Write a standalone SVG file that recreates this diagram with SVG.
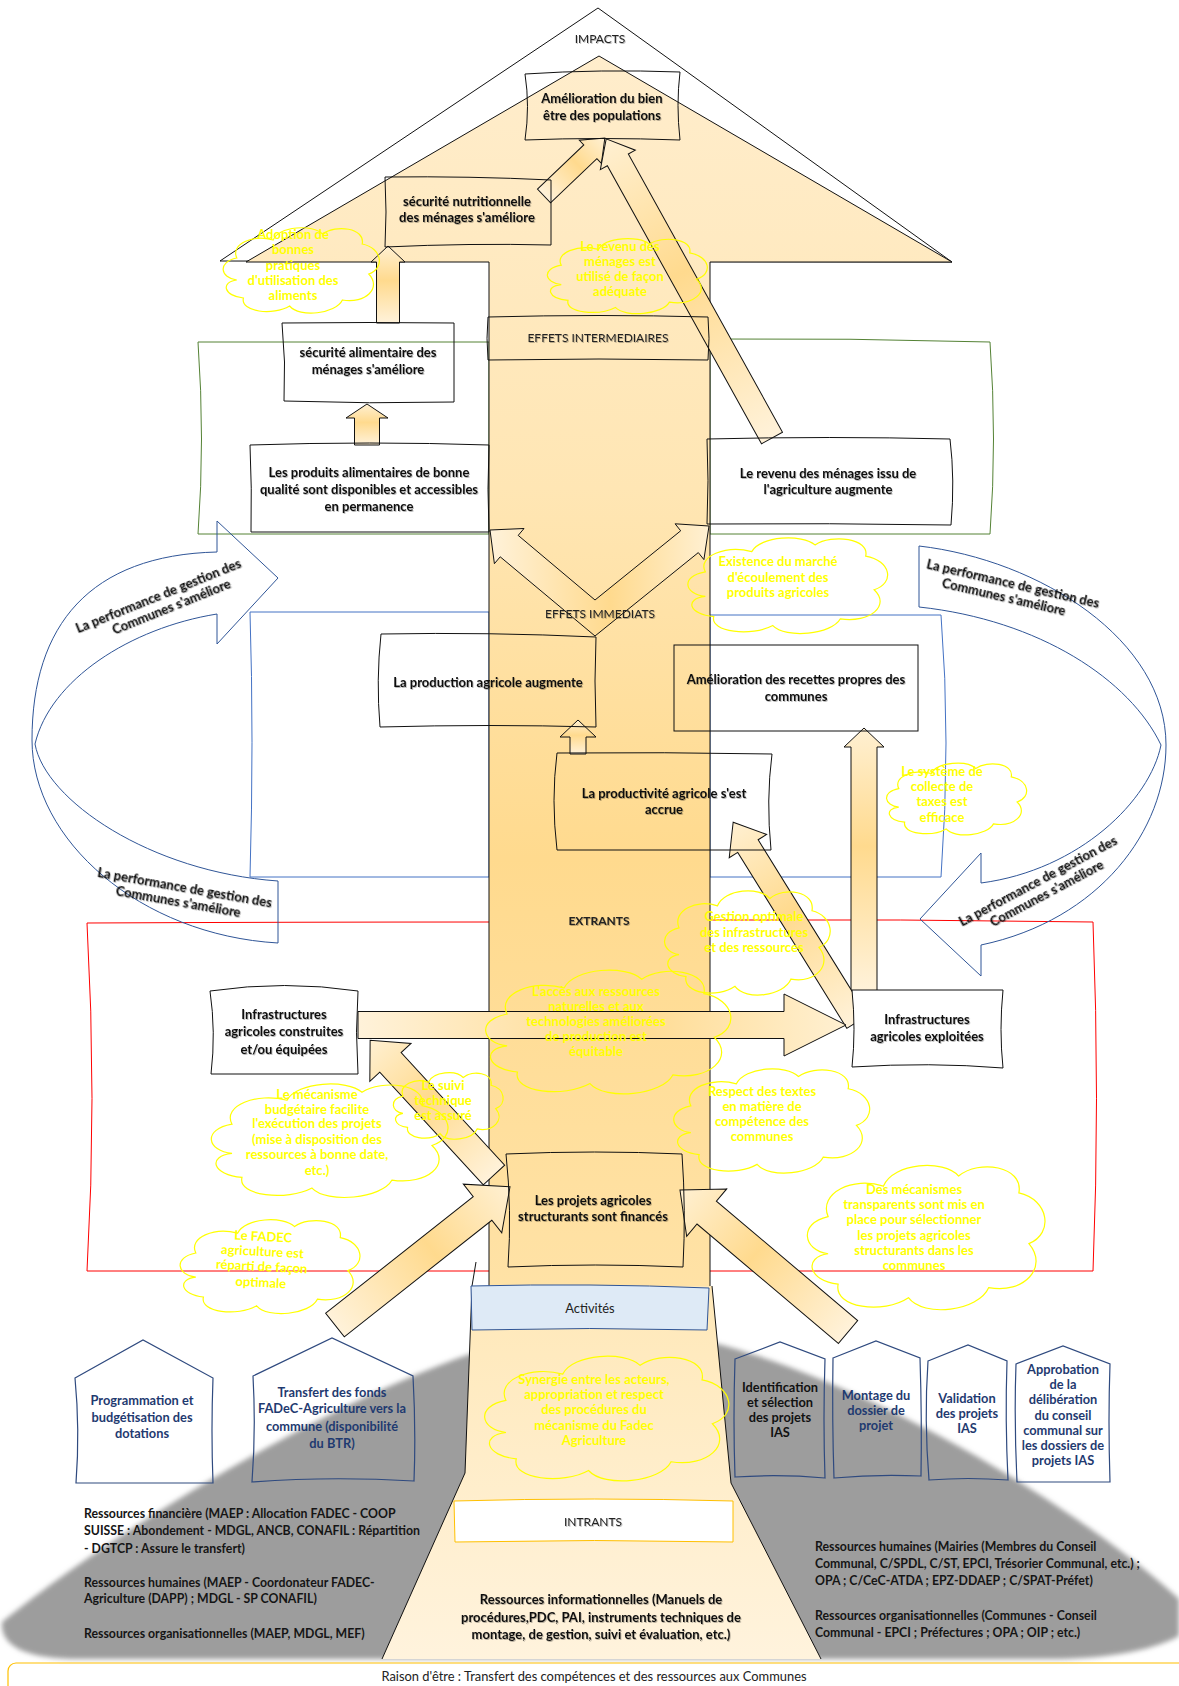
<svg xmlns="http://www.w3.org/2000/svg" width="1179" height="1686" viewBox="0 0 1179 1686">
<defs>
<style>
text{font-family:Lato,"Liberation Sans",Arial,sans-serif;}
.lb{font-weight:700;font-size:13px;fill:#111;text-anchor:middle;filter:url(#ts)}
.sec{font-weight:400;font-size:12px;fill:#222;text-anchor:middle;filter:url(#ts)}
.sec2{font-weight:400;font-size:12.9px;fill:#222;text-anchor:middle}
.cl{font-weight:700;font-size:13px;fill:#FFFF00;text-anchor:middle}
.nv{font-weight:700;font-size:12.8px;fill:#1F3A70;text-anchor:middle}
.res{font-weight:700;font-size:12.3px;fill:#151515}
.cv{font-weight:700;font-size:13px;fill:#111;text-anchor:middle;filter:url(#ts)}
.box{fill:none;stroke:#111;stroke-width:1}
.wbox{fill:#fff;stroke:#111;stroke-width:1}
.arr{fill:url(#ag);stroke:#111;stroke-width:1}
.cloud{fill:none;stroke:#FFFF00;stroke-width:1.2}
.pent{fill:none;stroke:#2F4A7F;stroke-width:1.2}
.band{fill:none;stroke:#2F5597;stroke-width:1}
</style>
<filter id="ts" x="-5%" y="-30%" width="110%" height="160%"><feDropShadow dx="0.8" dy="1" stdDeviation="0.6" flood-color="#000" flood-opacity="0.28"/></filter>
<linearGradient id="shaftG" gradientUnits="userSpaceOnUse" x1="0" y1="56" x2="0" y2="1290">
<stop offset="0" stop-color="#FFEDCC"/>
<stop offset="0.35" stop-color="#FFE6B4"/>
<stop offset="0.65" stop-color="#FFDA8E"/>
<stop offset="1" stop-color="#FFE2A6"/>
</linearGradient>
<linearGradient id="trunkG" x1="0" y1="0" x2="0" y2="1">
<stop offset="0" stop-color="#FFE8B8"/>
<stop offset="1" stop-color="#FFF3DD"/>
</linearGradient>
<linearGradient id="ag" x1="0" y1="0" x2="1" y2="0">
<stop offset="0" stop-color="#FFF2DA"/>
<stop offset="0.55" stop-color="#FFDA8E"/>
<stop offset="1" stop-color="#FFF0D2"/>
</linearGradient>
<filter id="soft" x="-5%" y="-5%" width="110%" height="110%"><feGaussianBlur stdDeviation="2.5"/></filter>
<path id="cloud" vector-effect="non-scaling-stroke" d="M12,62 C2,60 0,44 12,40 C8,26 22,16 34,22 C38,8 58,6 64,16 C72,6 90,10 88,26 C100,30 102,50 92,56 C100,70 90,86 76,82 C72,96 50,100 44,88 C34,98 14,94 16,80 C4,78 2,64 12,62 Z"/>
</defs>

<!-- grey background shape -->
<path id="shadow" d="M2,1622 C140,1510 445,1328 600,1326 C780,1326 1060,1490 1179,1599 L1179,1636 C1150,1652 1100,1659 1050,1659 L80,1659 C30,1659 0,1648 2,1622 Z" fill="#9D9D9D" filter="url(#soft)"/>

<!-- impacts triangle -->
<polygon points="220,261 598,8 952,262" fill="none" stroke="#111" stroke-width="1"/>

<!-- colored frames -->
<g id="frames" fill="none" stroke-width="1">
<path d="M198,342 L489,342 L489,534 L198,534 Q205,440 198,342 Z" stroke="#548235"/>
<path d="M710,339 Q850,338 990,342 Q997,440 990,534 L710,534 Z" stroke="#548235"/>
<path d="M250,612 L489,612 L489,877 L250,877 Q254,740 250,612 Z" stroke="#4472C4"/>
<path d="M710,615 L941,615 Q951,740 941,877 L710,877 Z" stroke="#4472C4"/>
<path d="M87,923 Q300,922 489,922 L710,920 Q900,919 1093,922 Q1100,1100 1093,1271 L87,1271 Q97,1100 87,923 Z" stroke="#FF0000"/>
</g>

<!-- curved blue arrows -->
<g id="curved-arrows" class="band">
<path d="M217,552 C90,555 32,625 32,740 C32,840 140,935 278,943"/>
<path d="M217,614 C130,628 50,680 35,744 C45,800 150,872 278,881"/>
<path d="M217,552 L217,521 L278,578 L217,644 L217,614"/>
<path d="M278,881 L278,943"/>
<path d="M919,546 C1040,560 1166,640 1166,745 C1166,830 1100,920 981,945"/>
<path d="M919,607 C1040,620 1130,680 1161,745 C1150,800 1080,870 981,883"/>
<path d="M981,883 L981,853 L920,919 L981,976 L981,945"/>
<path d="M919,546 L919,607"/>
</g>
<g id="curved-labels">
<text class="cv" transform="translate(160,600) rotate(-22)"><tspan x="0" y="0">La performance de gestion des</tspan><tspan x="8" y="15">Communes s'améliore</tspan></text>
<text class="cv" transform="translate(184,892) rotate(10)"><tspan x="0" y="0">La performance de gestion des</tspan><tspan x="-4" y="15">Communes s'améliore</tspan></text>
<text class="cv" transform="translate(1012,588) rotate(13)"><tspan x="0" y="0">La performance de gestion des</tspan><tspan x="-6" y="15">Communes s'améliore</tspan></text>
<text class="cv" transform="translate(1040,885) rotate(-28)"><tspan x="0" y="0">La performance de gestion des</tspan><tspan x="2" y="15">Communes s'améliore</tspan></text>
</g>

<!-- big arrow and trunk -->
<path id="big-arrow" d="M599,56 L952,262 L710,262 L710,1290 L489,1290 L489,262 L246,262 Z" fill="url(#shaftG)" stroke="#111" stroke-width="1"/>
<path id="trunk" d="M472,1286 L465,1473 L382,1659 L821,1659 L731,1483 L712,1286 Z" fill="url(#trunkG)" stroke="none"/>
<path d="M476,1262 L472,1286 L465,1473 L382,1659 M712,1286 L731,1483 L821,1659" fill="none" stroke="#111" stroke-width="1"/>

<!-- connectors -->
<g id="connectors">
<path class="arr" transform="translate(544,196) rotate(-43.6)" d="M0,-9.5 L64,-9.5 L64,-16 L84,0 L64,16 L64,9.5 L0,9.5 Z"/>
<path class="arr" transform="translate(772,438) rotate(-119)" d="M0,-12 L318,-12 L318,-20 L342,0 L318,20 L318,12 L0,12 Z"/>
<path class="arr" transform="translate(388,323) rotate(-90)" d="M0,-11.5 L61,-11.5 L61,-17 L77,0 L61,17 L61,11.5 L0,11.5 Z"/>
<path class="arr" transform="translate(367,445) rotate(-90)" d="M0,-12.5 L27,-12.5 L27,-21 L41,0 L27,21 L27,12.5 L0,12.5 Z"/>
<path class="arr" d="M595,636 L500.2,556.8 L494.4,563.7 L490,530 L524,528.5 L518.2,535.4 L595,600 L680.7,530.8 L675.1,523.8 L709,526 L703.9,559.6 L698.3,552.6 Z"/>
<path class="arr" transform="translate(578,754) rotate(-90)" d="M0,-8 L17,-8 L17,-18 L34,0 L17,18 L17,8 L0,8 Z"/>
<path class="arr" transform="translate(864,991) rotate(-90)" d="M0,-13 L244,-13 L244,-20 L263,0 L244,20 L244,13 L0,13 Z"/>
<path class="arr" transform="translate(857,1022) rotate(-121.8)" d="M0,-12 L207,-12 L207,-22 L235,0 L207,22 L207,12 L0,12 Z"/>
<path class="arr" transform="translate(494,1175) rotate(-132.6)" d="M0,-14.5 L153,-14.5 L153,-28 L183,0 L153,28 L153,14.5 L0,14.5 Z"/>
<path class="arr" transform="translate(358,1025)" d="M0,-13.5 L426,-13.5 L426,-31 L488,0 L426,31 L426,13.5 L0,13.5 Z"/>
<path class="arr" transform="translate(335,1325) rotate(-38.3)" d="M0,-15 L188,-15 L188,-31 L223,0 L188,31 L188,15 L0,15 Z"/>
<path class="arr" transform="translate(848,1332) rotate(-139.8)" d="M0,-15 L185,-15 L185,-31 L220,0 L185,31 L185,15 L0,15 Z"/>
</g>

<!-- section labels -->
<text class="sec" x="600" y="43">IMPACTS</text>
<g id="effets-intermediaires">
<path class="box" d="M488,317 Q600,314 708,317 Q710,338 708,360 Q600,358 488,360 Q486,338 488,317 Z"/>
<text class="sec" x="598" y="342">EFFETS INTERMEDIAIRES</text>
</g>
<text class="sec" x="600" y="618">EFFETS IMMEDIATS</text>
<text class="sec" x="599" y="925" style="font-weight:700">EXTRANTS</text>

<!-- nodes -->
<g id="n-bienetre">
<path class="box" d="M525,74 Q600,69 680,72 Q676,105 680,140 Q600,137 525,140 Q530,106 525,74 Z"/>
<text class="lb"><tspan x="602" y="103">Amélioration du bien</tspan><tspan x="602" y="120">être des populations</tspan></text>
</g>
<g id="n-nutri">
<path class="box" d="M385,177 Q470,176 551,180 L551,245 Q470,243 385,247 Q387,212 385,177 Z"/>
<text class="lb"><tspan x="467" y="206">sécurité nutritionnelle</tspan><tspan x="467" y="222">des ménages s'améliore</tspan></text>
</g>
<g id="n-alim">
<path class="box" d="M282,323 Q370,322 454,323 L454,402 Q370,404 284,401 Q286,362 282,323 Z"/>
<text class="lb"><tspan x="368" y="357">sécurité alimentaire des</tspan><tspan x="368" y="374">ménages s'améliore</tspan></text>
</g>
<g id="n-produits">
<path class="box" d="M250,445 Q370,441 489,445 Q487,490 489,532 L251,532 Q252,488 250,445 Z"/>
<text class="lb"><tspan x="369" y="477">Les produits alimentaires de bonne</tspan><tspan x="369" y="494">qualité sont disponibles et accessibles</tspan><tspan x="369" y="511">en permanence</tspan></text>
</g>
<g id="n-revenu">
<path class="box" d="M707,439 Q830,436 950,439 Q955,480 951,525 Q830,523 707,524 Q709,480 707,439 Z"/>
<text class="lb"><tspan x="828" y="478">Le revenu des ménages issu de</tspan><tspan x="828" y="494">l'agriculture augmente</tspan></text>
</g>
<g id="n-production">
<path class="box" d="M381,634 Q490,632 596,637 Q594,680 596,727 Q490,724 380,727 Q376,680 381,634 Z"/>
<text class="lb" x="488" y="687">La production agricole augmente</text>
</g>
<g id="n-recettes">
<rect class="box" x="674" y="645" width="244" height="86"/>
<text class="lb"><tspan x="796" y="684">Amélioration des recettes propres des</tspan><tspan x="796" y="701">communes</tspan></text>
</g>
<g id="n-productivite">
<path class="box" d="M557,753 Q665,752 772,754 Q766,800 771,850 L557,850 Q551,800 557,753 Z"/>
<text class="lb"><tspan x="664" y="798">La productivité agricole s'est</tspan><tspan x="664" y="814">accrue</tspan></text>
</g>
<g id="n-construites">
<path class="wbox" d="M210,991 Q285,980 358,991 Q355,1032 358,1074 L211,1074 Q216,1032 210,991 Z"/>
<text class="lb"><tspan x="284" y="1019">Infrastructures</tspan><tspan x="284" y="1036">agricoles construites</tspan><tspan x="284" y="1054">et/ou équipées</tspan></text>
</g>
<g id="n-exploitees">
<path class="wbox" d="M852,990 L1003,990 Q999,1030 1003,1068 Q930,1062 852,1067 Q856,1030 852,990 Z"/>
<text class="lb"><tspan x="927" y="1024">Infrastructures</tspan><tspan x="927" y="1041">agricoles exploitées</tspan></text>
</g>
<g id="n-projets">
<path class="box" d="M506,1154 Q595,1150 682,1154 Q686,1210 683,1267 Q595,1263 508,1267 Q512,1210 506,1154 Z"/>
<text class="lb"><tspan x="593" y="1205">Les projets agricoles</tspan><tspan x="593" y="1221">structurants sont financés</tspan></text>
</g>
<g id="activites">
<path d="M471,1286 Q590,1283 709,1288 L707,1330 Q590,1327 472,1330 Z" fill="#DEEAF6" stroke="#2F5597" stroke-width="1"/>
<text class="sec2" x="590" y="1313">Activités</text>
</g>
<g id="intrants">
<path d="M454,1501 Q595,1497 733,1501 L733,1542 Q595,1539 455,1542 Z" fill="#fff" stroke="#FFC000" stroke-width="1"/>
<text class="sec" x="593" y="1526">INTRANTS</text>
</g>

<!-- activity pentagons -->
<g id="p-programmation">
<path class="pent" d="M75,1378 L143,1340 L213,1378 Q211,1430 213,1483 L76,1483 Q80,1430 75,1378 Z"/>
<text class="nv"><tspan x="142" y="1405">Programmation et</tspan><tspan x="142" y="1422">budgétisation des</tspan><tspan x="142" y="1438">dotations</tspan></text>
</g>
<g id="p-transfert">
<path class="pent" d="M253,1376 L332,1338 L413,1376 Q416,1430 414,1481 Q330,1476 252,1482 Q256,1430 253,1376 Z"/>
<text class="nv"><tspan x="332" y="1397">Transfert des fonds</tspan><tspan x="332" y="1413">FADeC-Agriculture vers la</tspan><tspan x="332" y="1431">commune (disponibilité</tspan><tspan x="332" y="1448">du BTR)</tspan></text>
</g>
<g id="p-identification">
<path class="pent" d="M735,1359 L780,1342 L825,1359 Q823,1420 825,1478 Q780,1474 735,1477 Q733,1420 735,1359 Z"/>
<text class="nv" style="fill:#111"><tspan x="780" y="1392">Identification</tspan><tspan x="780" y="1407">et sélection</tspan><tspan x="780" y="1422">des projets</tspan><tspan x="780" y="1437">IAS</tspan></text>
</g>
<g id="p-montage">
<path class="pent" d="M833,1358 L876,1341 L920,1358 Q922,1420 921,1476 Q876,1474 834,1478 Q832,1420 833,1358 Z"/>
<text class="nv"><tspan x="876" y="1400">Montage du</tspan><tspan x="876" y="1415">dossier de</tspan><tspan x="876" y="1430">projet</tspan></text>
</g>
<g id="p-validation">
<path class="pent" d="M928,1361 L968,1345 L1007,1361 Q1005,1420 1008,1480 Q968,1477 929,1480 Q924,1420 928,1361 Z"/>
<text class="nv"><tspan x="967" y="1403">Validation</tspan><tspan x="967" y="1418">des projets</tspan><tspan x="967" y="1433">IAS</tspan></text>
</g>
<g id="p-approbation">
<path class="pent" d="M1016,1364 L1063,1346 L1110,1364 Q1108,1420 1110,1482 L1017,1482 Q1014,1420 1016,1364 Z"/>
<text class="nv"><tspan x="1063" y="1374">Approbation</tspan><tspan x="1063" y="1389">de la</tspan><tspan x="1063" y="1404">délibération</tspan><tspan x="1063" y="1420">du conseil</tspan><tspan x="1063" y="1435">communal sur</tspan><tspan x="1063" y="1450">les dossiers de</tspan><tspan x="1063" y="1465">projets IAS</tspan></text>
</g>

<!-- resources texts -->
<g id="res-left">
<text class="res"><tspan x="84" y="1518">Ressources financière (MAEP : Allocation FADEC - COOP</tspan><tspan x="84" y="1535">SUISSE : Abondement - MDGL, ANCB, CONAFIL : Répartition</tspan><tspan x="84" y="1553">- DGTCP : Assure le transfert)</tspan><tspan x="84" y="1587">Ressources humaines (MAEP - Coordonateur FADEC-</tspan><tspan x="84" y="1603">Agriculture (DAPP) ; MDGL - SP CONAFIL)</tspan><tspan x="84" y="1638">Ressources organisationnelles (MAEP, MDGL, MEF)</tspan></text>
</g>
<g id="res-right">
<text class="res"><tspan x="815" y="1551">Ressources humaines (Mairies (Membres du Conseil</tspan><tspan x="815" y="1568">Communal, C/SPDL, C/ST, EPCI, Trésorier Communal, etc.) ;</tspan><tspan x="815" y="1585">OPA ; C/CeC-ATDA ; EPZ-DDAEP ; C/SPAT-Préfet)</tspan><tspan x="815" y="1620">Ressources organisationnelles (Communes - Conseil</tspan><tspan x="815" y="1637">Communal - EPCI ; Préfectures ; OPA ; OIP ; etc.)</tspan></text>
</g>
<g id="res-info">
<text class="lb"><tspan x="601" y="1604">Ressources informationnelles (Manuels de</tspan><tspan x="601" y="1622">procédures,PDC, PAI, instruments techniques de</tspan><tspan x="601" y="1639">montage, de gestion, suivi et évaluation, etc.)</tspan></text>
</g>

<!-- raison d'etre -->
<g id="raison">
<rect x="8" y="1663" width="1200" height="40" rx="8" fill="none" stroke="#FFC000" stroke-width="1.2"/>
<text class="sec2" x="594" y="1681">Raison d'être : Transfert des compétences et des ressources aux Communes</text>
</g>

<!-- clouds (assumptions) -->
<g id="clouds">
<use href="#cloud" class="cloud" transform="translate(217,218) scale(1.65,1.0)"/>
<text class="cl"><tspan x="293" y="239">Adoption de</tspan><tspan x="293" y="254">bonnes</tspan><tspan x="293" y="270">pratiques</tspan><tspan x="293" y="285">d'utilisation des</tspan><tspan x="293" y="300">aliments</tspan></text>
<use href="#cloud" class="cloud" transform="translate(541,230) scale(1.69,0.88)"/>
<text class="cl"><tspan x="620" y="251">Le revenu des</tspan><tspan x="620" y="266">ménages est</tspan><tspan x="620" y="281">utilisé de façon</tspan><tspan x="620" y="296">adéquate</tspan></text>
<use href="#cloud" class="cloud" transform="translate(680,527) scale(2.11,1.12)"/>
<text class="cl"><tspan x="778" y="566">Existence du marché</tspan><tspan x="778" y="582">d'écoulement des</tspan><tspan x="778" y="597">produits agricoles</tspan></text>
<use href="#cloud" class="cloud" transform="translate(881,755) scale(1.48,0.84)"/>
<text class="cl"><tspan x="942" y="776">Le système de</tspan><tspan x="942" y="791">collecte de</tspan><tspan x="942" y="806">taxes est</tspan><tspan x="942" y="822">efficace</tspan></text>
<use href="#cloud" class="cloud" transform="translate(658,879) scale(1.75,1.22)"/>
<text class="cl"><tspan x="754" y="921">Gestion optimale</tspan><tspan x="754" y="937">des infrastructures</tspan><tspan x="754" y="952">et des ressources</tspan></text>
<use href="#cloud" class="cloud" transform="translate(476,956) scale(2.59,1.45)"/>
<text class="cl"><tspan x="596" y="996">L'accès aux ressources</tspan><tspan x="596" y="1011">naturelles et aux</tspan><tspan x="596" y="1026">technologies améliorées</tspan><tspan x="596" y="1041">de production est</tspan><tspan x="596" y="1056">équitable</tspan></text>
<use href="#cloud" class="cloud" transform="translate(389,1065) scale(1.16,0.78)"/>
<text class="cl"><tspan x="443" y="1090">Le suivi</tspan><tspan x="443" y="1105">technique</tspan><tspan x="443" y="1120">est assuré</tspan></text>
<use href="#cloud" class="cloud" transform="translate(202,1071) scale(2.5,1.33)"/>
<text class="cl"><tspan x="317" y="1099">Le mécanisme</tspan><tspan x="317" y="1114">budgétaire facilite</tspan><tspan x="317" y="1128">l'exécution des projets</tspan><tspan x="317" y="1144">(mise à disposition des</tspan><tspan x="317" y="1159">ressources à bonne date,</tspan><tspan x="317" y="1175">etc.)</tspan></text>
<use href="#cloud" class="cloud" transform="translate(666,1057) scale(2.07,1.22)"/>
<text class="cl"><tspan x="762" y="1096">Respect des textes</tspan><tspan x="762" y="1111">en matière de</tspan><tspan x="762" y="1126">compétence des</tspan><tspan x="762" y="1141">communes</tspan></text>
<use href="#cloud" class="cloud" transform="translate(798,1149) scale(2.51,1.69)"/>
<text class="cl"><tspan x="914" y="1194">Des mécanismes</tspan><tspan x="914" y="1209">transparents sont mis en</tspan><tspan x="914" y="1224">place pour sélectionner</tspan><tspan x="914" y="1240">les projets agricoles</tspan><tspan x="914" y="1255">structurants dans les</tspan><tspan x="914" y="1270">communes</tspan></text>
<use href="#cloud" class="cloud" transform="translate(173,1209) scale(1.9,1.1)"/>
<text class="cl" transform="rotate(3 262 1260)"><tspan x="262" y="1241">Le FADEC</tspan><tspan x="262" y="1256">agriculture est</tspan><tspan x="262" y="1271">réparti de façon</tspan><tspan x="262" y="1287">optimale</tspan></text>
<use href="#cloud" class="cloud" transform="translate(475,1342) scale(2.58,1.46)"/>
<text class="cl"><tspan x="594" y="1384">Synergie entre les acteurs,</tspan><tspan x="594" y="1399">appropriation et respect</tspan><tspan x="594" y="1414">des procédures du</tspan><tspan x="594" y="1430">mécanisme du Fadec</tspan><tspan x="594" y="1445">Agriculture</tspan></text>
</g>
</svg>
